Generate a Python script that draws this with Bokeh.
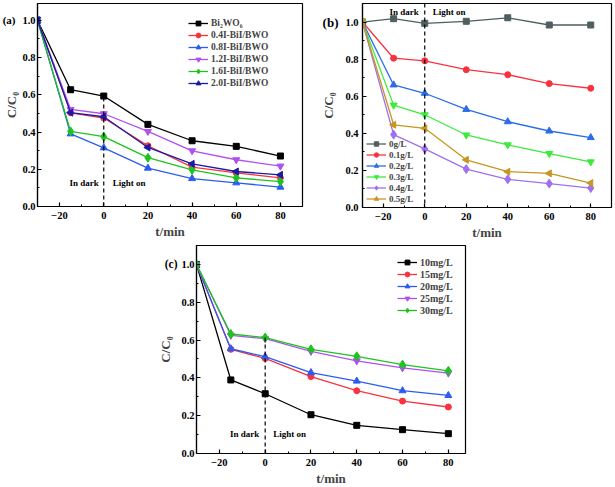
import numpy as np
from bokeh.plotting import figure
from bokeh.models import FixedTicker, PrintfTickFormatter, Label, Span, Spacer, Range1d, LinearAxis
from bokeh.layouts import column, row
from bokeh.embed import file_html
from bokeh.resources import INLINE

# ---------------- data ----------------
t = [-30, -15, 0, 20, 40, 60, 80]

a_labels = ["Bi₂WO₆", "0.4I-BiI/BWO", "0.8I-BiI/BWO", "1.2I-BiI/BWO", "1.6I-BiI/BWO", "2.0I-BiI/BWO"]
a_bi2wo6 = [1.0, 0.627, 0.593, 0.441, 0.353, 0.323, 0.271]
a_04 = [1.0, 0.503, 0.475, 0.326, 0.211, 0.181, 0.154]
a_08 = [1.0, 0.390, 0.315, 0.206, 0.150, 0.127, 0.104]
a_12 = [1.0, 0.521, 0.498, 0.403, 0.299, 0.251, 0.217]
a_16 = [1.0, 0.403, 0.375, 0.262, 0.197, 0.154, 0.134]
a_20 = [1.0, 0.504, 0.482, 0.317, 0.229, 0.188, 0.170]

b_labels = ["0g/L", "0.1g/L", "0.2g/L", "0.3g/L", "0.4g/L", "0.5g/L"]
b_0 = [1.0, 1.018, 0.993, 1.004, 1.023, 0.984, 0.984]
b_01 = [1.0, 0.805, 0.791, 0.743, 0.716, 0.668, 0.643]
b_02 = [1.0, 0.661, 0.616, 0.529, 0.4625, 0.4125, 0.377]
b_03 = [1.0, 0.552, 0.500, 0.391, 0.338, 0.291, 0.246]
b_04 = [1.0, 0.393, 0.316, 0.207, 0.152, 0.129, 0.105]
b_05 = [1.0, 0.446, 0.427, 0.257, 0.193, 0.184, 0.132]

c_labels = ["10mg/L", "15mg/L", "20mg/L", "25mg/L", "30mg/L"]
c_10 = [1.0, 0.389, 0.316, 0.205, 0.149, 0.126, 0.105]
c_15 = [1.0, 0.551, 0.503, 0.407, 0.332, 0.277, 0.246]
c_20 = [1.0, 0.554, 0.512, 0.428, 0.383, 0.332, 0.307]
c_25 = [1.0, 0.625, 0.607, 0.540, 0.490, 0.453, 0.425]
c_30 = [1.0, 0.632, 0.613, 0.551, 0.514, 0.470, 0.437]

x_ticks = [-20, 0, 20, 40, 60, 80]
x_minor = [-30, -10, 10, 30, 50, 70]
y_ticks = [0.0, 0.2, 0.4, 0.6, 0.8, 1.0]
y_minor = [0.1, 0.3, 0.5, 0.7, 0.9]

FONT = "Liberation Serif"

# marker spec: (marker, size, angle)
MARK = [("square", 6, 0), ("circle", 6, 0), ("triangle", 7, 0),
        ("inverted_triangle", 7, 0), ("diamond", 9, 0), ("triangle", 7, np.pi / 2)]


def make_fig(fw, fh, borders, xr, yr, panel, s1, s2, st, pfs):
    l, r, tp, b = borders
    p = figure(frame_width=fw, frame_height=fh, output_backend="svg", toolbar_location=None,
               x_range=Range1d(*xr), y_range=Range1d(*yr),
               min_border_left=l, min_border_right=r, min_border_top=tp, min_border_bottom=b)
    p.xgrid.visible = False
    p.ygrid.visible = False
    p.outline_line_color = "black"
    p.outline_line_width = 1.2
    p.background_fill_color = "white"
    p.border_fill_color = "white"
    p.xaxis.ticker = FixedTicker(ticks=x_ticks, minor_ticks=x_minor)
    p.yaxis.ticker = FixedTicker(ticks=y_ticks, minor_ticks=y_minor)
    p.yaxis.formatter = PrintfTickFormatter(format="%.1f")
    for ax in (p.xaxis[0], p.yaxis[0]):
        ax.axis_line_width = 1.2
        ax.major_tick_in = 4
        ax.major_tick_out = 0
        ax.minor_tick_in = 2
        ax.minor_tick_out = 0
        ax.major_tick_line_width = 1.2
        ax.major_label_text_font = FONT
        ax.major_label_text_font_style = "bold"
        ax.major_label_text_font_size = "10.5px"
        ax.major_label_text_color = "black"
        ax.axis_label_text_font = FONT
        ax.axis_label_text_font_style = "bold"
        ax.axis_label_text_font_size = "13px"
    p.xaxis.major_label_standoff = 5
    p.xaxis.axis_label_standoff = 2
    p.xaxis.axis_label = "t/min"
    p.yaxis.major_label_standoff = s1
    p.yaxis.axis_label = None
    # outer left axis carrying the panel tag and the y title
    ax2 = LinearAxis(ticker=FixedTicker(ticks=[1.0]), formatter=PrintfTickFormatter(format=panel),
                     axis_line_color=None, major_tick_line_color=None, minor_tick_line_color=None,
                     major_tick_in=0, major_tick_out=0, minor_tick_in=0, minor_tick_out=0,
                     major_label_standoff=s2, major_label_text_font=FONT,
                     major_label_text_font_style="bold", major_label_text_font_size=pfs,
                     major_label_text_color="black",
                     axis_label="C/C₀", axis_label_standoff=st, axis_label_text_font=FONT,
                     axis_label_text_font_style="bold", axis_label_text_font_size="13px")
    p.add_layout(ax2, "left")
    return p


def add_series(p, ys_list, labels, colors, marks):
    for ys, lab, col, mk in zip(ys_list, labels, colors, marks):
        m, s, ang = mk
        p.line(t, ys, line_color=col, line_width=1.3, legend_label=lab)
        p.scatter(t, ys, marker=m, size=s, angle=ang, fill_color=col, line_color=col,
                  legend_label=lab)


def style_legend(p, loc, fs, row_h):
    lg = p.legend[0]
    lg.location = loc
    lg.border_line_color = None
    lg.background_fill_alpha = 0
    lg.padding = 0
    lg.margin = 0
    lg.spacing = 0
    lg.glyph_width = 20
    lg.glyph_height = row_h
    lg.label_height = row_h
    lg.label_standoff = 3
    lg.label_text_font = FONT
    lg.label_text_font_style = "bold"
    lg.label_text_font_size = fs
    lg.label_text_line_height = 1.0


def add_text(p, y, xoff_l, xoff_r):
    kw = dict(text_font=FONT, text_font_style="bold", text_font_size="9px",
              text_baseline="middle", text_color="black")
    p.add_layout(Label(x=0, y=y, x_offset=xoff_l, text="In dark", text_align="right", **kw))
    p.add_layout(Label(x=0, y=y, x_offset=xoff_r, text="Light on", text_align="left", **kw))


# ---------------- panel (a) ----------------
pa = make_fig(265, 203, (37, 3, 3, 34), (-30, 90), (0, 1.09), "(a)", 2, 4, -19, "11px")
a_colors = ["#000000", "#F8333F", "#2B5CF2", "#B150F0", "#1DC41D", "#1A1AA8"]
a_series = [a_bi2wo6, a_04, a_08, a_12, a_16, a_20]
add_series(pa, a_series, a_labels, a_colors, MARK)
top0_a = max(s[t.index(0)] for s in a_series)
pa.segment(x0=[0], y0=[0], x1=[0], y1=[top0_a], line_color="black", line_width=1.2, line_dash="4 3")
style_legend(pa, (151, 117), "9.5px", 12)
add_text(pa, 0.125, -5, 9)

# ---------------- panel (b) ----------------
pb = make_fig(249, 204, (57, 3, 2, 34), (-30, 90), (0, 1.1), "(b)", 4, 4, -16, "13px")
b_colors = ["#4F5F5F", "#F8333F", "#2B6CEA", "#3CEB3C", "#A070EE", "#C8961E"]
b_series = [b_0, b_01, b_02, b_03, b_04, b_05]
add_series(pb, b_series, b_labels, b_colors, MARK)
pb.add_layout(Span(location=0, dimension="height", line_color="black", line_width=1.2, line_dash="4 3"))
style_legend(pb, (4, 3), "9px", 11)
add_text(pb, 1.056, -6, 8)

# ---------------- panel (c) ----------------
pc = make_fig(269, 208, (41, 6, 4, 34), (-30, 87.5), (0, 1.1), "(c)", 2, 1, -11, "11.5px")
c_colors = ["#000000", "#F8333F", "#2B5CF2", "#B150F0", "#1DC41D"]
c_series = [c_10, c_15, c_20, c_25, c_30]
add_series(pc, c_series, c_labels, c_colors, MARK[:5])
top0_c = max(s[t.index(0)] for s in c_series)
pc.segment(x0=[0], y0=[0], x1=[0], y1=[top0_c], line_color="black", line_width=1.2, line_dash="4 3")
style_legend(pc, (201, 137), "10px", 12)
add_text(pc, 0.105, -6, 8)

layout = column(row(pa, pb), row(Spacer(width=154, height=246), pc))
open("out.html", "w").write(file_html(layout, INLINE))
